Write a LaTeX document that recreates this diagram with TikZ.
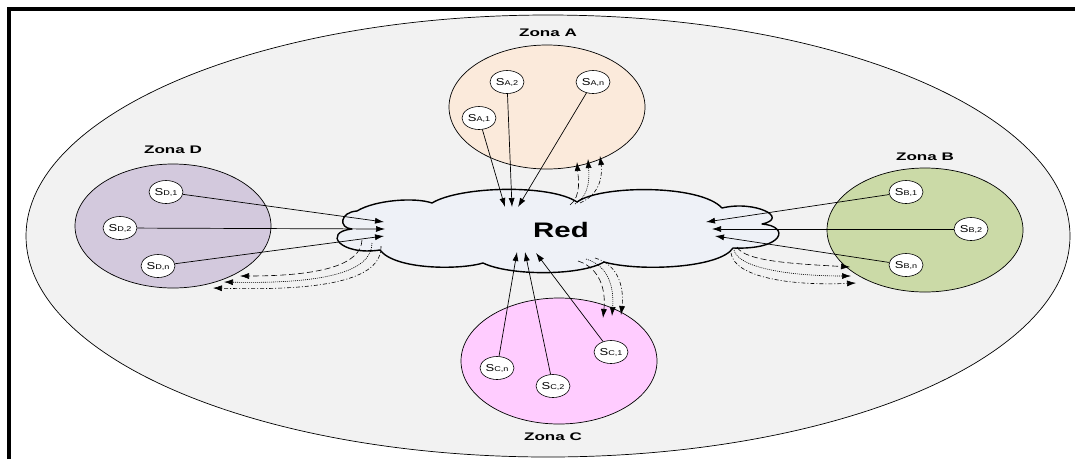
\documentclass[tikz,border=0pt]{standalone}
\usepackage{fontspec}
\setmainfont{Liberation Sans}
\usetikzlibrary{arrows.meta,shapes.geometric}
\definecolor{outerfill}{HTML}{F2F2F2}
\definecolor{cloudfill}{HTML}{EEF1F7}
\definecolor{zafill}{HTML}{FBEADB}
\definecolor{zbfill}{HTML}{CBDAA7}
\definecolor{zcfill}{HTML}{FFCCFF}
\definecolor{zdfill}{HTML}{D3C9DD}
\newcommand\slab[1]{\scalebox{1.3}[1]{{\fontsize{10}{10}\selectfont S}{\fontsize{7}{7}\selectfont #1}}}
\tikzset{
  sensor/.style={ellipse, draw=black, line width=0.6pt, fill=white, minimum width=34pt, minimum height=23pt, inner sep=0pt},
  zonelbl/.style={font=\fontsize{11}{12}\selectfont\bfseries, xscale=1.55},
  zonecirc/.style={draw=black, line width=0.7pt},
  flow/.style={line width=0.7pt, -{Latex[length=9pt,width=6pt]}},
  fbdash/.style={line width=0.6pt, dash pattern=on 6pt off 3pt, -{Latex[length=9pt,width=6pt]}},
  fbdot/.style={line width=0.6pt, dash pattern=on 1pt off 1pt, -{Latex[length=9pt,width=6pt]}},
  fbdashdot/.style={line width=0.6pt, dash pattern=on 4pt off 2pt on 1pt off 2pt, -{Latex[length=9pt,width=6pt]}},
}
\begin{document}
\begin{tikzpicture}[x=1pt,y=-1pt]
\useasboundingbox (0,0) rectangle (1075,459);
% outer ellipse
\draw[fill=outerfill, line width=0.7pt] (548,236) ellipse [x radius=522, y radius=221];
% frame
\draw[line width=4pt] (9,459) -- (9,9) -- (1075,9);
% zones
\draw[zonecirc, fill=zafill] (547,107) ellipse [x radius=98, y radius=62];
\draw[zonecirc, fill=zdfill] (173,226) ellipse [x radius=98, y radius=62];
\draw[zonecirc, fill=zbfill] (925,230) ellipse [x radius=98, y radius=62];
\draw[zonecirc, fill=zcfill] (559,361) ellipse [x radius=98, y radius=63];
\node[zonelbl] (lA) at (548,33) {Zona A};
\node[zonelbl] (lD) at (173,150) {Zona D};
\node[zonelbl] (lB) at (925,157) {Zona B};
\node[zonelbl] (lC) at (553,437) {Zona C};
% cloud
\draw[fill=cloudfill, line width=1.4pt, line join=round]
 (352,229) .. controls (338,228) and (340,212) .. (357,211)
 .. controls (375,200) and (415,197) .. (432,203)
 .. controls (460,186) and (550,184) .. (577,202)
 .. controls (600,185) and (700,184) .. (722,208)
 .. controls (755,200) and (790,218) .. (762,224)
 .. controls (790,226) and (785,250) .. (733,248)
 .. controls (720,268) and (640,272) .. (604,262)
 .. controls (580,276) and (510,276) .. (483,263)
 .. controls (460,270) and (395,270) .. (380,250)
 .. controls (340,256) and (322,232) .. (352,229) -- cycle;
\node[font=\fontsize{21}{22}\selectfont\bfseries, xscale=1.4] (red) at (561,230) {Red};
% sensors
\node[sensor] (SA1) at (479,118) {\slab{A,1}};
\node[sensor] (SA2) at (507,82) {\slab{A,2}};
\node[sensor] (SAn) at (593,82) {\slab{A,n}};
\node[sensor] (SD1) at (166,192) {\slab{D,1}};
\node[sensor] (SD2) at (120,228) {\slab{D,2}};
\node[sensor] (SDn) at (158,266) {\slab{D,n}};
\node[sensor] (SB1) at (906,192) {\slab{B,1}};
\node[sensor] (SB2) at (971,229) {\slab{B,2}};
\node[sensor] (SBn) at (906,265) {\slab{B,n}};
\node[sensor] (SCn) at (497,368) {\slab{C,n}};
\node[sensor] (SC2) at (553,386) {\slab{C,2}};
\node[sensor] (SC1) at (611,352) {\slab{C,1}};
% arrow targets in the cloud
\coordinate (aA1) at (505,207); \coordinate (aA2) at (512,207); \coordinate (aAn) at (518,207);
\coordinate (aD1) at (384,222); \coordinate (aD2) at (385,229); \coordinate (aDn) at (384,236);
\coordinate (aB1) at (706,222); \coordinate (aB2) at (712,229); \coordinate (aBn) at (715,236);
\coordinate (aCn) at (517,252); \coordinate (aC2) at (525,252); \coordinate (aC1) at (536,253);
\draw[flow] (SA1) -- (aA1);
\draw[flow] (SA2) -- (aA2);
\draw[flow] (SAn) -- (aAn);
\draw[flow] (SD1) -- (aD1);
\draw[flow] (SD2) -- (aD2);
\draw[flow] (SDn) -- (aDn);
\draw[flow] (SB1) -- (aB1);
\draw[flow] (SB2) -- (aB2);
\draw[flow] (SBn) -- (aBn);
\draw[flow] (SCn) -- (aCn);
\draw[flow] (SC2) -- (aC2);
\draw[flow] (SC1) -- (aC1);
% feedback arrows: zone A
\coordinate (fA1) at (570,205); \coordinate (fA2) at (575,204); \coordinate (fA3) at (580,203);
\coordinate (eA1) at (577,162); \coordinate (eA2) at (588,159); \coordinate (eA3) at (600,156);
\draw[fbdash] (fA1) .. controls (582,196) and (578,176) .. (eA1);
\draw[fbdot] (fA2) .. controls (591,195) and (589,174) .. (eA2);
\draw[fbdashdot] (fA3) .. controls (603,193) and (602,171) .. (eA3);
% zone D
\coordinate (fD1) at (362,240); \coordinate (fD2) at (372,243); \coordinate (fD3) at (381,246);
\coordinate (eD1) at (240,276); \coordinate (eD2) at (224,282); \coordinate (eD3) at (213,288);
\draw[fbdash] (fD1) .. controls (361,265) and (320,276) .. (eD1);
\draw[fbdot] (fD2) .. controls (372,273) and (320,284) .. (eD2);
\draw[fbdashdot] (fD3) .. controls (382,281) and (320,291) .. (eD3);
% zone B
\coordinate (fB1) at (737,247); \coordinate (fB2) at (734,250); \coordinate (fB3) at (731,253);
\coordinate (eB1) at (850,267); \coordinate (eB2) at (851,276); \coordinate (eB3) at (856,283);
\draw[fbdash] (fB1) .. controls (745,262) and (800,264) .. (eB1);
\draw[fbdot] (fB2) .. controls (738,268) and (790,276) .. (eB2);
\draw[fbdashdot] (fB3) .. controls (734,277) and (790,286) .. (eB3);
% zone C
\coordinate (fC1) at (578,261); \coordinate (fC2) at (586,259); \coordinate (fC3) at (595,258);
\coordinate (eC1) at (603,318); \coordinate (eC2) at (612,316); \coordinate (eC3) at (621,315);
\draw[fbdash] (fC1) .. controls (600,268) and (606,290) .. (eC1);
\draw[fbdot] (fC2) .. controls (610,266) and (614,290) .. (eC2);
\draw[fbdashdot] (fC3) .. controls (620,265) and (624,290) .. (eC3);
\end{tikzpicture}
\end{document}
